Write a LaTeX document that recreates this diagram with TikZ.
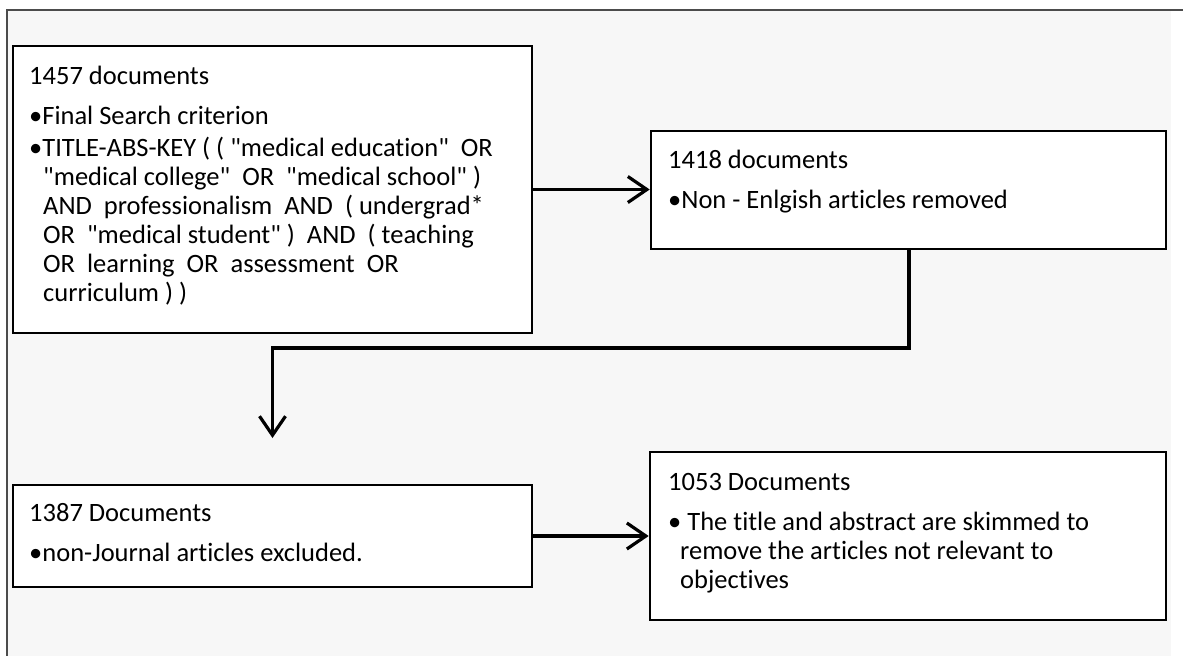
\documentclass[tikz,border=0pt]{standalone}
\usepackage{fontspec}
\setmainfont{Carlito}[Ligatures={NoCommon}]
\usetikzlibrary{arrows.meta}
\newcommand{\fs}{\fontsize{26.5}{29}\selectfont}
\newcommand{\qq}{\textquotedbl{}}
\begin{document}
\begin{tikzpicture}[x=1pt,y=-1pt,
  boxst/.style={draw=black, line width=2.6pt, fill=white},
  txt/.style={anchor=base west, inner sep=0pt, font=\fs, text=black},
  arr/.style={line width=3.2pt, -{Straight Barb[length=19pt,width=26pt]}},
  elb/.style={line width=4pt, line cap=rect}]
\useasboundingbox (0,0) rectangle (1183,656);
\fill[gray!6] (7,10) rectangle (1171,656);
\draw[line width=1.5pt, black!70] (1183,10) -- (7,10) -- (7,656);
% boxes
\node[boxst, minimum width=519pt, minimum height=287pt, inner sep=0pt] (A) at (272.5,189.5) {};
\node[boxst, minimum width=515pt, minimum height=118pt, inner sep=0pt] (B) at (908.5,190) {};
\node[boxst, minimum width=519pt, minimum height=102pt, inner sep=0pt] (C) at (272.5,536) {};
\node[boxst, minimum width=516pt, minimum height=168pt, inner sep=0pt] (D) at (908,536) {};
% texts A
\node[txt] (a1) at (29,84) {1457 documents};
\node[txt] (a2) at (29,124) {•Final Search criterion};
\node[txt] (a3) at (29,156) {•TITLE-ABS-KEY ( ( \qq medical education\qq~ OR};
\node[txt] (a4) at (43,185) {\qq medical college\qq~ OR~ \qq medical school\qq{} )};
\node[txt] (a5) at (43,214) {AND~ professionalism~ AND~ ( undergrad*};
\node[txt] (a6) at (43,243) {OR~ \qq medical student\qq{} )~ AND~ ( teaching};
\node[txt] (a7) at (43,272) {OR~ learning~ OR~ assessment~ OR};
\node[txt] (a8) at (43,301) {curriculum ) )};
% texts B
\node[txt] (b1) at (668,168) {1418 documents};
\node[txt] (b2) at (668,208) {•Non - Enlgish articles removed};
% texts C
\node[txt] (c1) at (29,521) {1387 Documents};
\node[txt] (c2) at (29,561) {•non-Journal articles excluded.};
% texts D
\node[txt] (d1) at (668,490) {1053 Documents};
\node[txt] (d2) at (668,530) {• The title and abstract are skimmed to};
\node[txt] (d3) at (680,559) {remove the articles not relevant to};
\node[txt] (d4) at (680,588) {objectives};
% connectors
\draw[arr] (A.east) -- (A.east -| B.west);
\coordinate (bend) at (272.5,348);
\coordinate (tip) at (272.5,438);
\draw[elb] (B.south) |- (bend);
\draw[arr] (bend) -- (tip);
\draw[arr] (C.east) -- (C.east -| D.west);
\end{tikzpicture}
\end{document}
